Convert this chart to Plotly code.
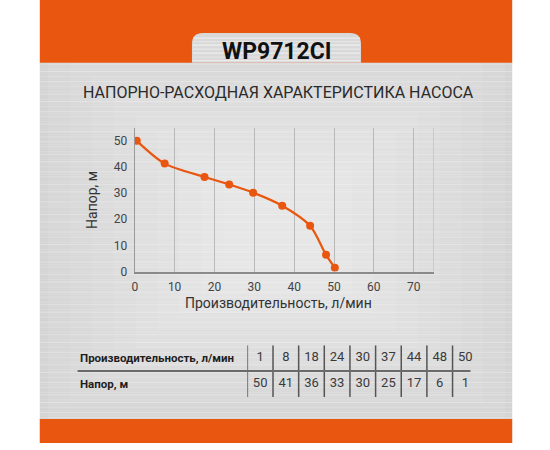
import plotly.graph_objects as go

W, H = 550, 450
SY = 1.018  # поправка: снимок страницы чуть сжимается по вертикали

# точки кривой
flow_pts = [0.5, 7.5, 17.5, 23.7, 29.7, 37, 44, 48, 50.2]
head_pts = [50, 41.3, 36.2, 33.3, 30.2, 25.2, 17.5, 6.4, 1.5]

# таблица под графиком
table_flow = [1, 8, 18, 24, 30, 37, 44, 48, 50]
table_head = [50, 41, 36, 33, 30, 25, 17, 6, 1]
row_labels = ["Производительность, л/мин", "Напор, м"]

x_ticks = [0, 10, 20, 30, 40, 50, 60, 70]
y_ticks = [0, 10, 20, 30, 40, 50]
x_max, y_max = 75, 55

title = "WP9712CI"
subtitle = "НАПОРНО-РАСХОДНАЯ ХАРАКТЕРИСТИКА НАСОСА"
x_title = "Производительность, л/мин"
y_title = "Напор, м"

ORANGE = "#E8560F"
FONT = "Roboto"


def px(x):
    return x / W


def py(y):
    return max(0.0, 1 - y * SY / H)


fig = go.Figure()

# кривая насоса
fig.add_trace(go.Scatter(
    x=flow_pts, y=head_pts, mode="lines+markers",
    line=dict(color=ORANGE, width=2.2, shape="spline", smoothing=0.8),
    marker=dict(color=ORANGE, size=8),
    hoverinfo="x+y", showlegend=False,
))

# таблица: числа по колонкам
cols = list(range(len(table_flow)))
fig.add_trace(go.Scatter(
    x=cols + cols, y=[1] * len(cols) + [0] * len(cols),
    mode="text", text=[str(v) for v in table_flow + table_head],
    textfont=dict(family=FONT, size=13, color="#3a3a3a"),
    xaxis="x2", yaxis="y2", showlegend=False, hoverinfo="skip",
))

shapes = []
# фон: серебристая панель
shapes.append(dict(type="rect", xref="paper", yref="paper", layer="below",
                   x0=px(37), x1=px(512), y0=py(443), y1=py(62),
                   fillcolor="#d4d4d4", line_width=0))
# светлое пятно в центре (ступенчатый градиент)
for i in range(9):
    dx = 230 - i * 22
    dy = 190 - i * 18
    shapes.append(dict(type="rect", xref="paper", yref="paper", layer="below",
                       x0=px(275 - dx), x1=px(275 + dx),
                       y0=py(230 + dy), y1=py(230 - dy),
                       fillcolor="white", opacity=0.07, line_width=0))
# штрихи "шлифованного металла"
cycle = [0.25, 0.0, 0.12, 0.35, 0.05, 0.18, 0.0, 0.3, 0.1, 0.22, 0.0, 0.15]
yy = 34
k = 0
while yy < 418:
    op = cycle[k % len(cycle)]
    if op > 0:
        shapes.append(dict(type="line", xref="paper", yref="paper", layer="below",
                           x0=px(37), x1=px(512), y0=py(yy), y1=py(yy),
                           line=dict(color="white", width=1), opacity=op))
    yy += 2.5
    k += 1
# оранжевые полосы
shapes.append(dict(type="rect", xref="paper", yref="paper", layer="below",
                   x0=px(37), x1=px(512), y0=py(62.5), y1=1,
                   fillcolor=ORANGE, line_width=0))
shapes.append(dict(type="rect", xref="paper", yref="paper", layer="below",
                   x0=px(37), x1=px(512), y0=py(443), y1=py(418),
                   fillcolor=ORANGE, line_width=0))
# вкладка под название
r = 11
tab = (f"M {px(190)},{py(62.5)} L {px(190)},{py(33 + r)} "
       f"Q {px(190)},{py(33)} {px(190 + r)},{py(33)} "
       f"L {px(360 - r)},{py(33)} Q {px(360)},{py(33)} {px(360)},{py(33 + r)} "
       f"L {px(360)},{py(62.5)} Z")
shapes.append(dict(type="path", xref="paper", yref="paper", layer="below",
                   path=tab, fillcolor="#d9d9d9", line_width=0))
for i, yt in enumerate([38, 41.5, 45, 49, 53, 57, 60.5]):
    shapes.append(dict(type="line", xref="paper", yref="paper", layer="below",
                       x0=px(191), x1=px(359), y0=py(yt), y1=py(yt),
                       line=dict(color="white", width=1.2),
                       opacity=[0.5, 0.3, 0.6, 0.4, 0.55, 0.3, 0.45][i]))

# правая граница сетки графика
shapes.append(dict(type="line", xref="x", yref="y", layer="below",
                   x0=x_max, x1=x_max, y0=0, y1=y_max,
                   line=dict(color="#b9b9b9", width=1)))

# линии таблицы
for c in cols:
    shapes.append(dict(type="line", xref="x2", yref="y2",
                       x0=c - 0.5, x1=c - 0.5, y0=-0.5, y1=1.5,
                       line=dict(color="#555555", width=1.5)))
shapes.append(dict(type="line", xref="paper", yref="y2",
                   x0=px(75), x1=px(470), y0=0.5, y1=0.5,
                   line=dict(color="#6a6a6a", width=2)))


def note(text, x, y, size, color, **kw):
    return dict(text=text, x=px(x), y=py(y), xref="paper", yref="paper",
                xanchor=kw.pop("xanchor", "center"), yanchor="middle",
                showarrow=False, font=dict(family=FONT, size=size, color=color),
                **kw)


annotations = [
    note(f"<b>{title}</b>", 275, 51, 23, "#111111"),
    note(subtitle, 277, 92, 16, "#2a2a2a"),
    note(x_title, 277, 302, 14, "#333333"),
    note(y_title, 90, 200, 14, "#333333", textangle=-90),
]
for row, label in zip([1, 0], row_labels):
    annotations.append(dict(text=f"<b>{label}</b>", x=px(75), y=row,
                            xref="paper", yref="y2", xanchor="left",
                            yanchor="middle", showarrow=False,
                            font=dict(family=FONT, size=11.5, color="#1e1e1e")))

fig.update_layout(
    width=W, height=H,
    margin=dict(l=0, r=0, t=0, b=0),
    paper_bgcolor="white", plot_bgcolor="rgba(0,0,0,0)",
    shapes=shapes, annotations=annotations,
    xaxis=dict(domain=[px(132.5), px(433)], range=[0, x_max],
               tickvals=x_ticks, showgrid=True, gridcolor="#b9b9b9", gridwidth=1,
               zeroline=False, showline=True, linecolor="#8a8a8a", linewidth=1.5,
               ticks="", ticklabelstandoff=3,
               tickfont=dict(family=FONT, size=12, color="#444444")),
    yaxis=dict(domain=[py(271), py(127.5)], range=[0, y_max],
               tickvals=y_ticks, showgrid=False, zeroline=False,
               showline=True, linecolor="#9a9a9a", linewidth=1.2,
               ticks="", ticklabelstandoff=4,
               tickfont=dict(family=FONT, size=12, color="#444444")),
    xaxis2=dict(domain=[px(245.7), px(477.8)], range=[-0.5, 8.5],
                visible=False, anchor="y2"),
    yaxis2=dict(domain=[py(396.1), py(344.5)], range=[-0.5, 1.5],
                visible=False, anchor="x2"),
)

page_fix = (
    "document.documentElement.style.margin='0';"
    "document.body.style.margin='0';"
    "document.body.style.overflow='hidden';"
    "var d=document.getElementById('{plot_id}');"
    "d.style.display='block';"
    "d.parentElement.style.height='450px';"
    "d.parentElement.style.overflow='hidden';"
)
fig.write_html("out.html", config={"displayModeBar": False},
               post_script=page_fix)
